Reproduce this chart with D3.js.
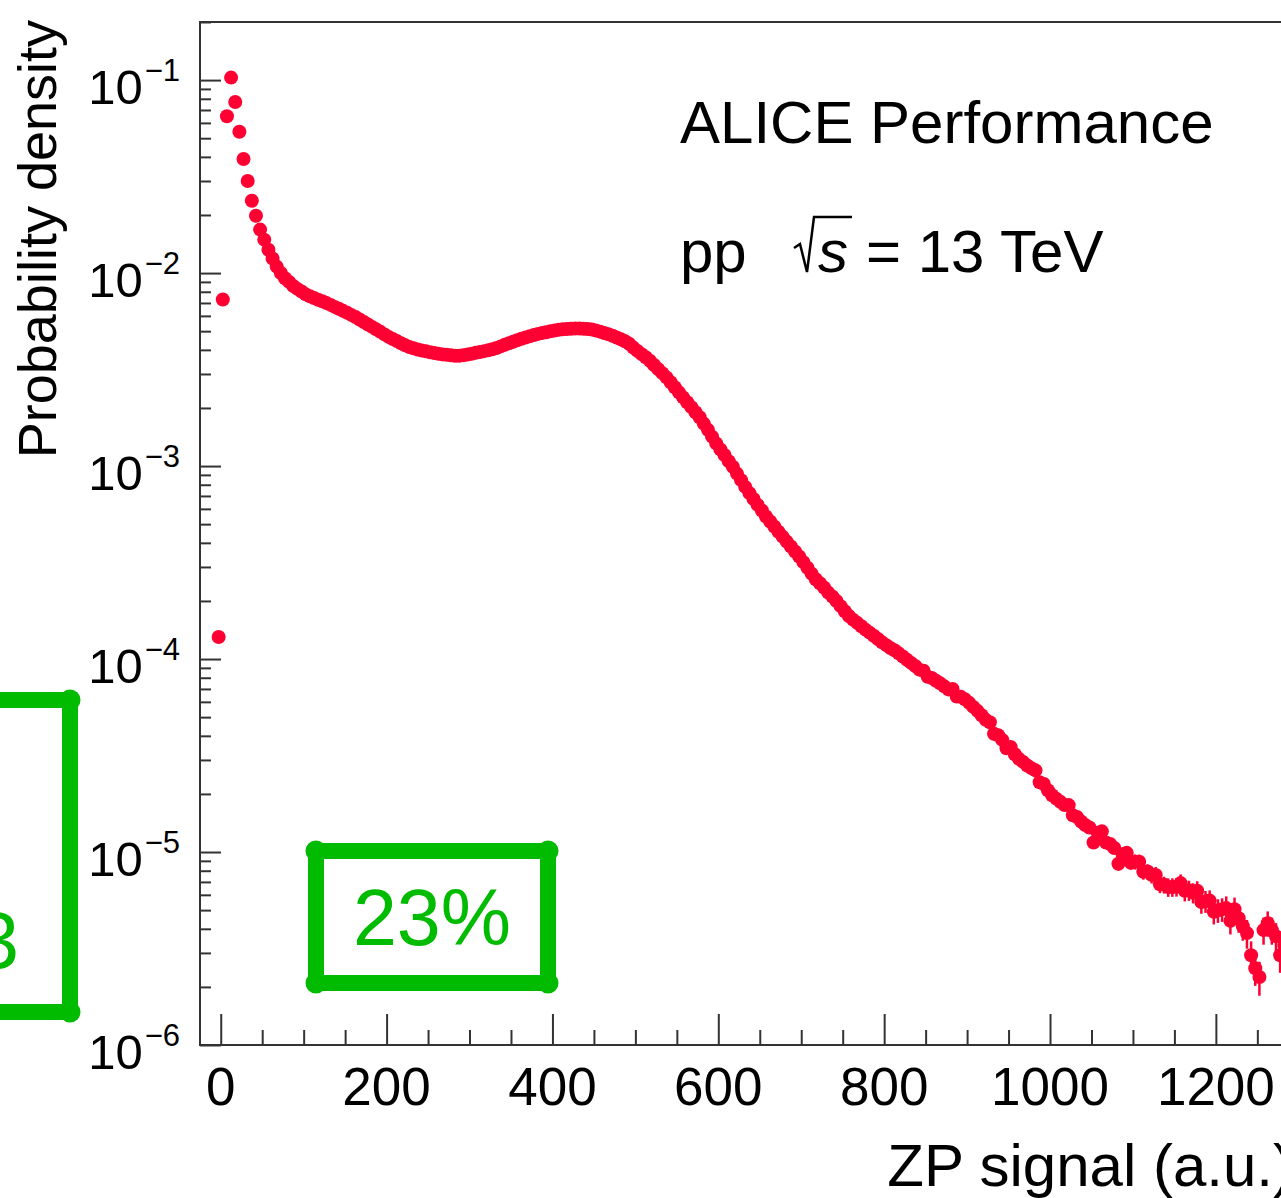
<!DOCTYPE html>
<html>
<head>
<meta charset="utf-8">
<script src="https://cdn.jsdelivr.net/npm/d3@7"></script>
<style>
  body { margin: 0; background: #fff; }
  svg { display: block; font-family: 'Liberation Sans', Arial, Helvetica, sans-serif; }
</style>
</head>
<body>
<div id="chart"></div>
<script>
// Histogram bins (ZP signal, a.u.)
const binStart = -5;
const binWidth = 5;

// Probability density per bin
const density = [
  1.30e-4, 7.3e-3, 6.5e-2, 0.103, 0.077, 0.054, 0.039, 0.030, 0.0237, 0.0198,
  0.0168, 0.0149, 0.0132, 0.0119, 0.0108, 0.0100, 0.0094, 0.0090, 0.00857, 0.00828,
  0.00802, 0.00776, 0.00759, 0.00743, 0.00727, 0.00715, 0.00699, 0.00684, 0.00668, 0.00653,
  0.00637, 0.00622, 0.00607, 0.00592, 0.00575, 0.00558, 0.00541, 0.00526, 0.00511, 0.00496,
  0.00481, 0.00467, 0.00455, 0.00444, 0.00433, 0.00423, 0.00414, 0.00408, 0.00402, 0.00397,
  0.00393, 0.00389, 0.00385, 0.00382, 0.00379, 0.00377, 0.00375, 0.00373, 0.00373, 0.00375,
  0.00378, 0.00382, 0.00386, 0.00390, 0.00394, 0.00398, 0.00403, 0.00409, 0.00417, 0.00425,
  0.00433, 0.00441, 0.00449, 0.00457, 0.00464, 0.00470, 0.00477, 0.00484, 0.00489, 0.00494,
  0.00499, 0.00504, 0.00508, 0.00511, 0.00513, 0.00515, 0.00516, 0.00516, 0.00514, 0.00513,
  0.00510, 0.00504, 0.00497, 0.00489, 0.00482, 0.00473, 0.00464, 0.00454, 0.00443, 0.00430,
  0.00411, 0.00395, 0.00380, 0.00366, 0.00351, 0.00334, 0.00318, 0.00303, 0.00288, 0.00272,
  0.00256, 0.00241, 0.00227, 0.00214, 0.00202, 0.00190, 0.00179, 0.00166, 0.00154, 0.00142,
  0.00131, 0.00122, 0.00114, 0.00106, 9.91e-4, 9.14e-4, 8.45e-4, 7.80e-4, 7.24e-4, 6.75e-4,
  6.29e-4, 5.88e-4, 5.48e-4, 5.16e-4, 4.86e-4, 4.57e-4, 4.31e-4, 4.06e-4, 3.83e-4, 3.61e-4,
  3.40e-4, 3.18e-4, 2.97e-4, 2.77e-4, 2.59e-4, 2.47e-4, 2.35e-4, 2.21e-4, 2.11e-4, 2.00e-4,
  1.88e-4, 1.77e-4, 1.67e-4, 1.60e-4, 1.54e-4, 1.48e-4, 1.42e-4, 1.37e-4, 1.32e-4, 1.27e-4,
  1.22e-4, 1.18e-4, 1.14e-4, 1.11e-4, 1.07e-4, 1.03e-4, 9.91e-5, 9.55e-5, 9.21e-5, 8.81e-5,
  8.70e-5, 8.10e-5, 7.98e-5, 7.72e-5, 7.48e-5, 7.22e-5, 6.96e-5, 7.00e-5, 6.40e-5, 6.37e-5,
  6.18e-5, 5.93e-5, 5.65e-5, 5.39e-5, 5.11e-5, 4.84e-5, 4.70e-5, 4.10e-5, 4.03e-5, 3.81e-5,
  3.45e-5, 3.50e-5, 3.21e-5, 3.04e-5, 2.93e-5, 2.81e-5, 2.72e-5, 2.65e-5, 2.30e-5, 2.25e-5,
  2.09e-5, 1.97e-5, 1.89e-5, 1.82e-5, 1.75e-5, 1.75e-5, 1.55e-5, 1.52e-5, 1.44e-5, 1.38e-5,
  1.34e-5, 1.12e-5, 1.26e-5, 1.28e-5, 1.12e-5, 1.10e-5, 1.05e-5, 8.70e-6, 9.75e-6, 9.90e-6,
  8.80e-6, 8.91e-6, 8.90e-6, 7.90e-6, 7.92e-6, 7.63e-6, 7.60e-6, 6.80e-6, 6.77e-6, 6.58e-6,
  6.58e-6, 6.60e-6, 6.90e-6, 6.30e-6, 6.34e-6, 6.15e-6, 6.30e-6, 5.50e-6, 5.56e-6, 5.60e-6,
  4.90e-6, 4.99e-6, 5.05e-6, 5.12e-6, 4.40e-6, 5.05e-6, 4.54e-6, 4.13e-6, 3.80e-6, 2.92e-6,
  2.50e-6, 2.25e-6, 3.94e-6, 4.28e-6, 3.94e-6, 3.66e-6, 2.92e-6, 3.30e-6
];

// Relative statistical errors, visible only in the tail (from bin 210 on)
const errFirstBin = 210;
const relErr = [
  0.06, 0.06, 0.06, 0.07, 0.07, 0.07, 0.07, 0.08, 0.08, 0.08,
  0.08, 0.09, 0.09, 0.09, 0.09, 0.10, 0.10, 0.10, 0.10, 0.11,
  0.11, 0.11, 0.11, 0.12, 0.12, 0.12, 0.12, 0.13, 0.13, 0.13,
  0.14, 0.14, 0.14, 0.15, 0.15, 0.15, 0.16, 0.16, 0.17, 0.18,
  0.19, 0.20, 0.16, 0.15, 0.16, 0.17, 0.19, 0.18
];

// Axis ticks
const xMajor = [0, 200, 400, 600, 800, 1000, 1200];
const xMinor = [50, 100, 150, 250, 300, 350, 450, 500, 550, 650, 700, 750, 850, 900, 950, 1050, 1100, 1150, 1250];
const yExponents = [-6, -5, -4, -3, -2, -1];

// Annotations
const annotations = [
  { text: '3', box: [-200, 700, 70, 1012], tx: 19, ty: 968, anchor: 'end' },
  { text: '23%', box: [316, 851, 548, 983], tx: 432, ty: 945, anchor: 'middle' }
];

const width = 1281;
const height = 1198;
const frame = { left: 200, top: 22, right: 1293, bottom: 1045 };

const svg = d3.select('#chart').append('svg')
  .attr('width', width)
  .attr('height', height);

const x = d3.scaleLinear().domain([-25, 1293]).range([frame.left, frame.right]);
const y = d3.scaleLog().domain([1e-6, 0.2]).range([frame.bottom, frame.top]);

const axisColor = '#333';
const markColor = '#ff0033';
const green = '#00bb00';

// Frame
svg.append('rect')
  .attr('x', frame.left)
  .attr('y', frame.top)
  .attr('width', frame.right - frame.left)
  .attr('height', frame.bottom - frame.top)
  .attr('fill', 'none')
  .attr('stroke', axisColor)
  .attr('stroke-width', 2);

// X ticks (pointing up into the frame)
const styleTicks = g => {
  g.select('.domain').remove();
  g.selectAll('line').attr('stroke', axisColor).attr('stroke-width', 2);
};
svg.append('g')
  .attr('transform', `translate(0,${frame.bottom})`)
  .call(d3.axisTop(x).tickValues(xMinor).tickSize(15).tickFormat(''))
  .call(styleTicks);
svg.append('g')
  .attr('transform', `translate(0,${frame.bottom})`)
  .call(d3.axisTop(x).tickValues(xMajor).tickSize(31).tickFormat(''))
  .call(styleTicks);

svg.append('g').selectAll('text')
  .data(xMajor)
  .join('text')
  .attr('x', d => x(d))
  .attr('y', 1105)
  .attr('text-anchor', 'middle')
  .attr('font-size', 53)
  .attr('fill', '#000')
  .text(d => d);

// Y ticks (log scale, pointing right into the frame)
const yMinor = [];
yExponents.forEach(e => {
  for (let m = 2; m <= 9; m++) {
    const v = m * Math.pow(10, e);
    if (v <= 0.2) yMinor.push(v);
  }
});
const yMajor = yExponents.map(e => Math.pow(10, e));

svg.append('g')
  .attr('transform', `translate(${frame.left},0)`)
  .call(d3.axisRight(y).tickValues(yMinor).tickSize(11).tickFormat(''))
  .call(styleTicks);
svg.append('g')
  .attr('transform', `translate(${frame.left},0)`)
  .call(d3.axisRight(y).tickValues(yMajor).tickSize(21).tickFormat(''))
  .call(styleTicks);

const yLabels = svg.append('g').selectAll('text')
  .data(yExponents)
  .join('text')
  .attr('x', 180)
  .attr('y', d => y(Math.pow(10, d)) + 24)
  .attr('text-anchor', 'end')
  .attr('fill', '#000');
yLabels.append('tspan').attr('font-size', 49).text('10');
yLabels.append('tspan')
  .attr('font-size', 31)
  .attr('dy', -23)
  .attr('dx', 2)
  .text(d => '\u2212' + Math.abs(d));

// Axis titles
svg.append('text')
  .attr('transform', 'translate(56,20) rotate(-90)')
  .attr('text-anchor', 'end')
  .attr('font-size', 54)
  .text('Probability density');

svg.append('text')
  .attr('x', frame.right)
  .attr('y', 1186)
  .attr('text-anchor', 'end')
  .attr('font-size', 60)
  .text('ZP signal (a.u.)');

// Data points
const points = density.map((v, i) => ({
  x: binStart + binWidth * (i + 0.5),
  v: v,
  err: i >= errFirstBin ? relErr[i - errFirstBin] : 0
}));

const plot = svg.append('g');

plot.selectAll('line.err')
  .data(points.filter(d => d.err > 0))
  .join('line')
  .attr('class', 'err')
  .attr('x1', d => x(d.x))
  .attr('x2', d => x(d.x))
  .attr('y1', d => y(d.v * (1 + d.err)))
  .attr('y2', d => y(d.v * (1 - d.err)))
  .attr('stroke', markColor)
  .attr('stroke-width', 2.5);

plot.selectAll('circle')
  .data(points)
  .join('circle')
  .attr('cx', d => x(d.x))
  .attr('cy', d => y(d.v))
  .attr('r', 7)
  .attr('fill', markColor);

// ALICE label
svg.append('text')
  .attr('x', 680)
  .attr('y', 143)
  .attr('font-size', 60)
  .text('ALICE Performance');

svg.append('text')
  .attr('x', 680)
  .attr('y', 272)
  .attr('font-size', 60)
  .text('pp');

svg.append('path')
  .attr('d', 'M794,248 L800,244 L807,272 L814,217 L852,217')
  .attr('fill', 'none')
  .attr('stroke', '#000')
  .attr('stroke-width', 2.5);

svg.append('text')
  .attr('x', 818)
  .attr('y', 272)
  .attr('font-size', 60)
  .attr('font-style', 'italic')
  .text('s');

svg.append('text')
  .attr('x', 866)
  .attr('y', 272)
  .attr('font-size', 60)
  .text('= 13 TeV');

// Green hand-drawn boxes
annotations.forEach(a => {
  const [x0, y0, x1, y1] = a.box;
  const g = svg.append('g');
  g.append('rect')
    .attr('x', x0)
    .attr('y', y0)
    .attr('width', x1 - x0)
    .attr('height', y1 - y0)
    .attr('rx', 4)
    .attr('fill', 'none')
    .attr('stroke', green)
    .attr('stroke-width', 16);
  [[x0, y0], [x1, y0], [x0, y1], [x1, y1]].forEach(([cx, cy]) => {
    g.append('circle')
      .attr('cx', cx)
      .attr('cy', cy)
      .attr('r', 10.5)
      .attr('fill', green);
  });
  g.append('text')
    .attr('x', a.tx)
    .attr('y', a.ty)
    .attr('text-anchor', a.anchor)
    .attr('font-size', 79)
    .attr('fill', green)
    .text(a.text);
});
</script>
</body>
</html>
